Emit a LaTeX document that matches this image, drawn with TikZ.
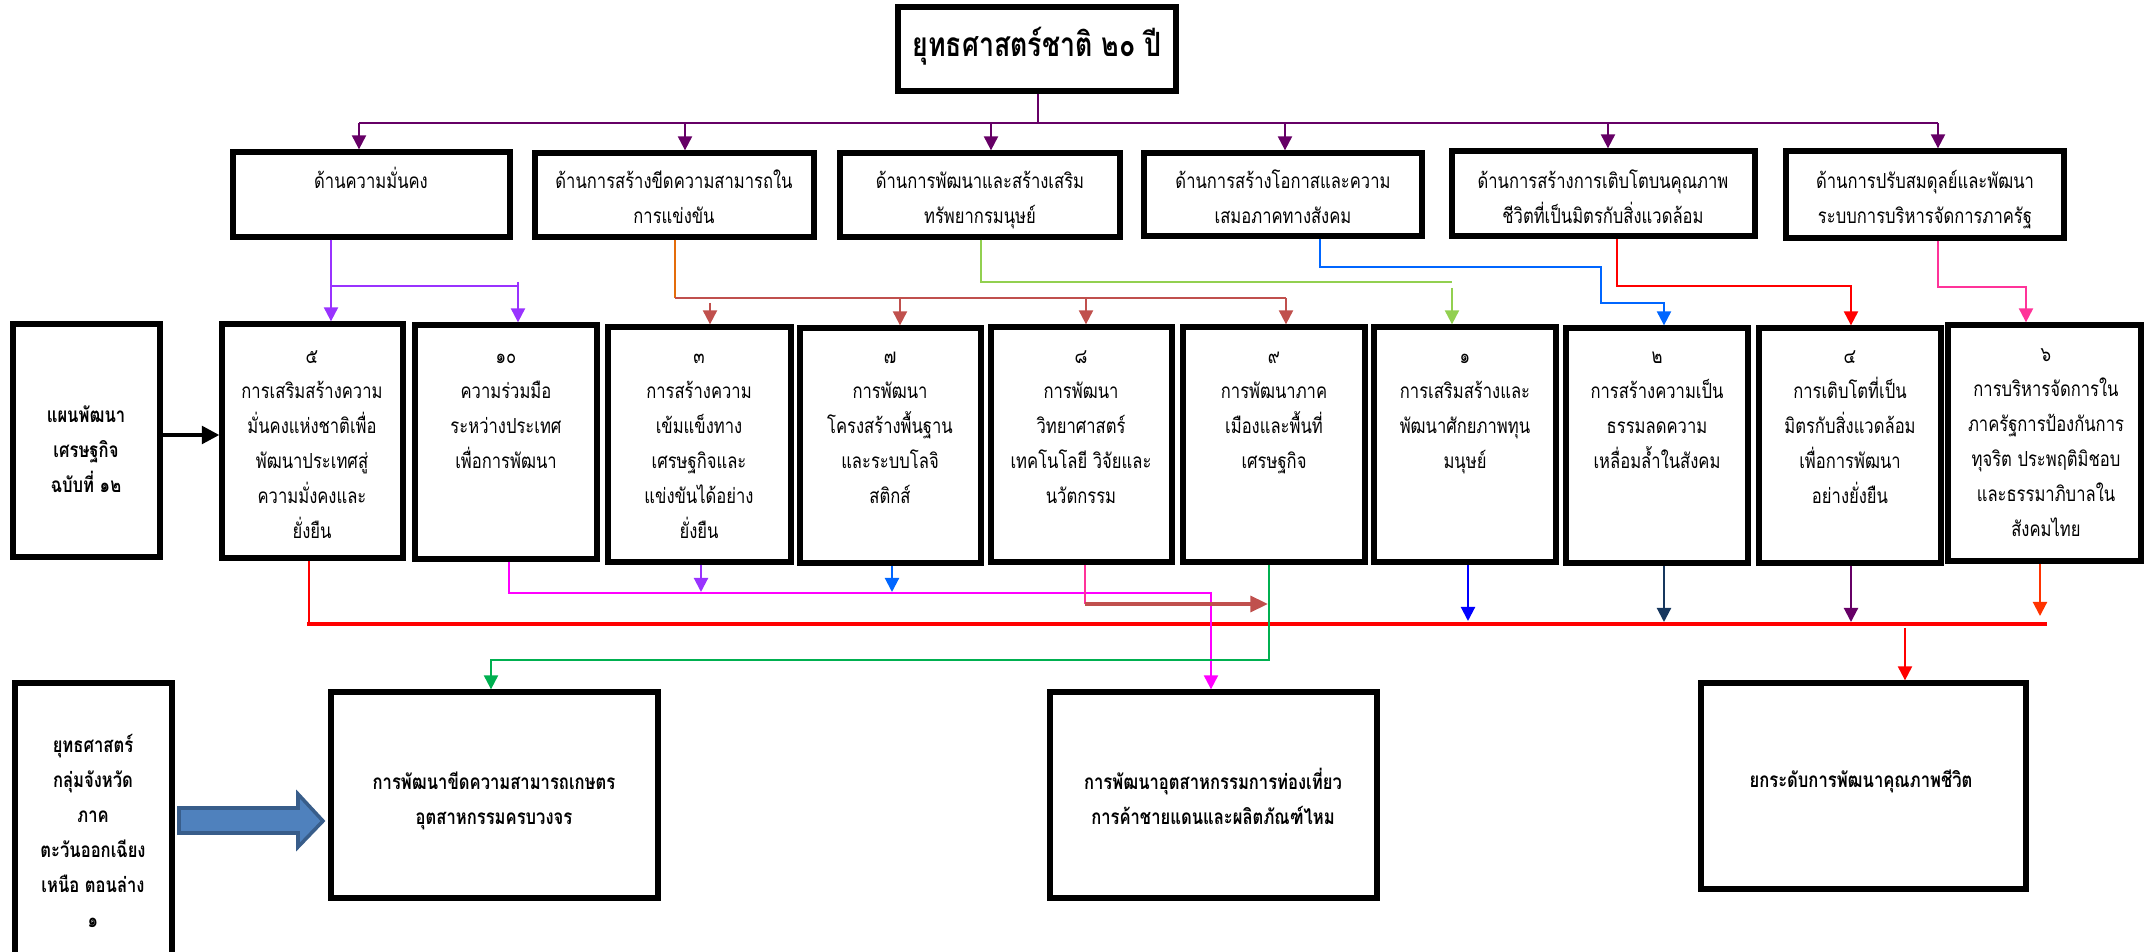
\documentclass[tikz,border=0pt]{standalone}
\usepackage{fontspec}
\newfontfamily\thaif[Script=Thai,FakeStretch=0.8]{Loma}
\usetikzlibrary{arrows.meta,fit}
\definecolor{cPurTop}{HTML}{660066}
\definecolor{cViolet}{HTML}{9933FF}
\definecolor{cOrange}{HTML}{E46C0A}
\definecolor{cBrown}{HTML}{C0504D}
\definecolor{cLGreen}{HTML}{92D050}
\definecolor{cBlueA}{HTML}{0066FF}
\definecolor{cRed}{HTML}{FF0000}
\definecolor{cPink}{HTML}{FF3399}
\definecolor{cMagenta}{HTML}{FF00FF}
\definecolor{cGreen}{HTML}{00B050}
\definecolor{cBlue}{HTML}{0000FF}
\definecolor{cNavy}{HTML}{17375E}
\definecolor{cOrRed}{HTML}{FF3300}
\definecolor{cArrFill}{HTML}{4F81BD}
\definecolor{cArrDraw}{HTML}{385D8A}
\newcommand\fN{\thaif\fontsize{5.9pt}{9.96pt}\selectfont}
\newcommand\fB{\thaif\bfseries\fontsize{5.9pt}{9.96pt}\selectfont}
\newcommand\fT{\thaif\bfseries\fontsize{9.5pt}{11pt}\selectfont}
\tikzset{
  box/.style={draw=black, line width=1.5pt, inner sep=0pt, fill=white},
  tn/.style={font=\fN, align=center, inner sep=0pt, anchor=base},
  tb/.style={font=\fB, align=center, inner sep=0pt, anchor=base},
  con/.style={line width=0.6pt},
  arr/.style={con, -{Triangle[length=4pt,width=4pt]}},
}
\begin{document}
\begin{tikzpicture}[x=0.01cm,y=-0.01cm]
\useasboundingbox (0,0) rectangle (2147,952);
% top box
\node[box, fit={(898,7) (1176,91)}] (T) {};
\node[font=\fT, inner sep=0pt, anchor=base] (Tt) at (1037,57) {ยุทธศาสตร์ชาติ ๒๐ ปี};
% row 1
\node[box, fit={(233,152) (510,237)}] (A1) {};
\node[box, fit={(535,153) (814,237)}] (A2) {};
\node[box, fit={(840,153) (1120,237)}] (A3) {};
\node[box, fit={(1144,153) (1422,236)}] (A4) {};
\node[box, fit={(1452,151) (1755,236)}] (A5) {};
\node[box, fit={(1786,151) (2064,238)}] (A6) {};
\node[tn] (A1t) at (371,189) {ด้านความมั่นคง};
\node[tn] (A2t) at (674,224) {ด้านการสร้างขีดความสามารถใน\\การแข่งขัน};
\node[tn] (A3t) at (980,224) {ด้านการพัฒนาและสร้างเสริม\\ทรัพยากรมนุษย์};
\node[tn] (A4t) at (1283,224) {ด้านการสร้างโอกาสและความ\\เสมอภาคทางสังคม};
\node[tn] (A5t) at (1603,224) {ด้านการสร้างการเติบโตบนคุณภาพ\\ชีวิตที่เป็นมิตรกับสิ่งแวดล้อม};
\node[tn] (A6t) at (1925,224) {ด้านการปรับสมดุลย์และพัฒนา\\ระบบการบริหารจัดการภาครัฐ};
% row 2
\node[box, fit={(13,324) (160,557)}] (L) {};
\node[box, fit={(222,324) (403,558)}] (B5) {};
\node[box, fit={(415,325) (597,559)}] (B10) {};
\node[box, fit={(608,327) (791,562)}] (B3) {};
\node[box, fit={(800,328) (981,563)}] (B7) {};
\node[box, fit={(991,327) (1172,562)}] (B8) {};
\node[box, fit={(1183,327) (1365,562)}] (B9) {};
\node[box, fit={(1374,327) (1556,562)}] (B1) {};
\node[box, fit={(1566,328) (1748,563)}] (B2) {};
\node[box, fit={(1759,328) (1941,563)}] (B4) {};
\node[box, fit={(1948,325) (2141,561)}] (B6) {};
\node[tb] (Lt) at (86,493) {แผนพัฒนา\\เศรษฐกิจ\\ฉบับที่ ๑๒};
\node[tn] (B5t) at (312,539) {๕\\การเสริมสร้างความ\\มั่นคงแห่งชาติเพื่อ\\พัฒนาประเทศสู่\\ความมั่งคงและ\\ยั่งยืน};
\node[tn] (B10t) at (506,469) {๑๐\\ความร่วมมือ\\ระหว่างประเทศ\\เพื่อการพัฒนา};
\node[tn] (B3t) at (699,539) {๓\\การสร้างความ\\เข้มแข็งทาง\\เศรษฐกิจและ\\แข่งขันได้อย่าง\\ยั่งยืน};
\node[tn] (B7t) at (890,504) {๗\\การพัฒนา\\โครงสร้างพื้นฐาน\\และระบบโลจิ\\สติกส์};
\node[tn] (B8t) at (1081,504) {๘\\การพัฒนา\\วิทยาศาสตร์\\เทคโนโลยี วิจัยและ\\นวัตกรรม};
\node[tn] (B9t) at (1274,469) {๙\\การพัฒนาภาค\\เมืองและพื้นที่\\เศรษฐกิจ};
\node[tn] (B1t) at (1465,469) {๑\\การเสริมสร้างและ\\พัฒนาศักยภาพทุน\\มนุษย์};
\node[tn] (B2t) at (1657,469) {๒\\การสร้างความเป็น\\ธรรมลดความ\\เหลื่อมล้ำในสังคม};
\node[tn] (B4t) at (1850,504) {๔\\การเติบโตที่เป็น\\มิตรกับสิ่งแวดล้อม\\เพื่อการพัฒนา\\อย่างยั่งยืน};
\node[tn] (B6t) at (2046,537) {๖\\การบริหารจัดการใน\\ภาครัฐการป้องกันการ\\ทุจริต ประพฤติมิชอบ\\และธรรมาภิบาลใน\\สังคมไทย};
% bottom
\node[box, fit={(15,683) (172,960)}] (S) {};
\node[box, fit={(331,692) (658,898)}] (M1) {};
\node[box, fit={(1050,692) (1377,898)}] (M2) {};
\node[box, fit={(1701,683) (2026,889)}] (R) {};
\node[tb] (St) at (93,928) {ยุทธศาสตร์\\กลุ่มจังหวัด\\ภาค\\ตะวันออกเฉียง\\เหนือ ตอนล่าง\\๑};
\node[tb] (M1t) at (494,825) {การพัฒนาขีดความสามารถเกษตร\\อุตสาหกรรมครบวงจร};
\node[tb] (M2t) at (1213,825) {การพัฒนาอุตสาหกรรมการท่องเที่ยว\\การค้าชายแดนและผลิตภัณฑ์ไหม};
\node[tb] (Rt) at (1861,788) {ยกระดับการพัฒนาคุณภาพชีวิต};
% top purple bus
\coordinate (busT) at (1038,123);
\draw[con, cPurTop] (T.south -| busT) -- (busT);
\draw[con, cPurTop] (359,123) -- (1938,123);
\draw[arr, cPurTop] (359,123) -- (359,0 |- A1.north);
\draw[arr, cPurTop] (685,123) -- (685,0 |- A2.north);
\draw[arr, cPurTop] (991,123) -- (991,0 |- A3.north);
\draw[arr, cPurTop] (1285,123) -- (1285,0 |- A4.north);
\draw[arr, cPurTop] (1608,123) -- (1608,0 |- A5.north);
\draw[arr, cPurTop] (1938,123) -- (1938,0 |- A6.north);
% A1 -> B5, B10
\draw[arr, cViolet] (331,0 |- A1.south) -- (331,0 |- B5.north);
\draw[con, cViolet] (331,286) -- (518,286);
\draw[arr, cViolet] (518,282) -- (518,0 |- B10.north);
% A2 -> B3,B7,B8,B9
\draw[con, cOrange] (675,0 |- A2.south) -- (675,298);
\draw[con, cBrown] (675,298) -- (1286,298);
\draw[arr, cBrown] (710,303) -- (710,0 |- B3.north);
\draw[arr, cBrown] (900,298) -- (900,0 |- B7.north);
\draw[arr, cBrown] (1086,298) -- (1086,0 |- B8.north);
\draw[arr, cBrown] (1286,298) -- (1286,0 |- B9.north);
% A3 -> B1
\draw[con, cLGreen] (981,0 |- A3.south) -- (981,282) -- (1452,282);
\draw[arr, cLGreen] (1452,288) -- (1452,0 |- B1.north);
% A4 -> B2
\draw[arr, cBlueA] (1320,0 |- A4.south) -- (1320,267) -- (1601,267) -- (1601,303) -- (1664,303) -- (1664,0 |- B2.north);
% A5 -> B4
\draw[arr, cRed] (1617,0 |- A5.south) -- (1617,286) -- (1851,286) -- (1851,0 |- B4.north);
% A6 -> B6
\draw[arr, cPink] (1938,0 |- A6.south) -- (1938,287) -- (2026,287) -- (2026,0 |- B6.north);
% L -> B5
\draw[line width=1.1pt, -{Triangle[length=5pt,width=5pt]}] (L.east |- 0,435) -- (B5.west |- 0,435);
% lower connectors
\coordinate (busR1) at (307,624);
\coordinate (busR2) at (2047,624);
\draw[line width=0.9pt, cRed] (busR1) -- (busR2);
\draw[con, cRed] (309,0 |- B5.south) -- (309,0 |- busR1);
\draw[arr, cMagenta] (509,0 |- B10.south) -- (509,593) -- (1211,593) -- (1211,0 |- M2.north);
\draw[arr, cViolet] (701,0 |- B3.south) -- (701,592);
\draw[arr, cBlueA] (892,0 |- B7.south) -- (892,592);
\draw[con, cPink] (1085,0 |- B8.south) -- (1085,604);
\draw[line width=1pt, cBrown, -{Triangle[length=5pt,width=4.5pt]}] (1085,604) -- (1268,604);
\draw[arr, cGreen] (1269,0 |- B9.south) -- (1269,660) -- (491,660) -- (491,0 |- M1.north);
\draw[arr, cBlue] (1468,0 |- B1.south) -- (1468,621);
\draw[arr, cNavy] (1664,0 |- B2.south) -- (1664,622);
\draw[arr, cPurTop] (1851,0 |- B4.south) -- (1851,622);
\draw[arr, cOrRed] (2040,0 |- B6.south) -- (2040,616);
\draw[arr, cRed] (1905,628) -- (1905,0 |- R.north);
% block arrow S -> M1
\draw[line width=1pt, draw=cArrDraw, fill=cArrFill] (179,808) -- (298,808) -- (298,794) -- (323,821) -- (298,847) -- (298,833) -- (179,833) -- cycle;
\end{tikzpicture}
\end{document}
